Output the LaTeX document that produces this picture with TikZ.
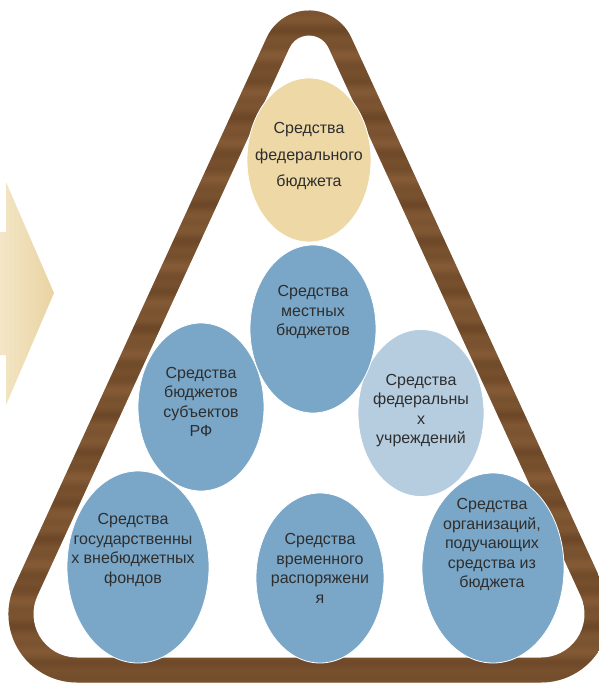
\documentclass[tikz,border=0pt]{standalone}
\usepackage{fontspec}
\setmainfont{Liberation Sans}
\usetikzlibrary{shapes.geometric}
\definecolor{woodA}{HTML}{9A6D42}
\definecolor{woodB}{HTML}{55361A}
\definecolor{woodM}{HTML}{7A5230}
\definecolor{yel}{HTML}{EDD8A6}
\definecolor{blu}{HTML}{7AA7C8}
\definecolor{lblu}{HTML}{B6CDE0}
\definecolor{txt}{HTML}{2E2E2E}
\definecolor{arrL}{HTML}{F3E6C6}
\definecolor{arrR}{HTML}{E9D3A2}
% rounded triangle: #1 apex y, #2 base y, #3 apex radius, #4 base radius
\newcommand\rtri[4]{({309-(#2-(#1))*0.46+(#4)/0.6409},{#2}) arc[start angle=90,end angle=204.7,radius=#4]
 -- ({309-0.9085*(#3)},{#1+(#3)/0.4179-0.4179*(#3)}) arc[start angle=204.7,end angle=335.3,radius=#3]
 -- ({309+(#2-(#1))*0.46-(#4)/0.6409+0.9085*(#4)},{#2-(#4)-0.4179*(#4)}) arc[start angle=-24.7,end angle=90,radius=#4]
 -- cycle}
\begin{document}
\begin{tikzpicture}[x=1pt,y=-1pt,
  bub/.style={ellipse, draw=white, line width=0.8pt, inner sep=0pt},
  lbl/.style={align=center, text=txt, inner sep=0pt, font=\fontsize{16}{19.5}\selectfont}]
\useasboundingbox (0,0) rectangle (598,687);
% arrow at left
\shade[left color=arrL, right color=arrR] (0,232) -- (6,232) -- (6,182) -- (54,293) -- (6,405) -- (6,355) -- (0,355) -- cycle;
% wooden frame
\begin{scope}
  \clip \rtri{-54.3}{682.5}{46.5}{68.5};
  \fill[woodM] (-40,0) rectangle (660,690);
  \foreach \i in {0,...,344}{
      \pgfmathtruncatemacro\wt{50+30*sin(17*\i)+20*sin(41*\i+40)}
      \fill[woodA!\wt!woodB, opacity=.35] (-40,{2*\i}) rectangle (660,{2*\i+2});
  }
\end{scope}
\fill[white] \rtri{5.6}{657.5}{21.5}{43.5};
% bubbles
\node[bub, fill=yel, minimum width=124pt, minimum height=164pt] (fed) at (309,160) {};
\node[lbl, font=\fontsize{16}{26.5}\selectfont] (fedT) at (309,156.5) {Средства\\федерального\\бюджета};
\node[bub, fill=blu, minimum width=126pt, minimum height=168pt] (subj) at (201,407) {};
\node[lbl] (subjT) at (201,402) {Средства\\бюджетов\\субъектов\\РФ};
\node[bub, fill=lblu, minimum width=126pt, minimum height=167pt] (fedu) at (421,413) {};
\node[lbl] (feduT) at (421,410.5) {Средства\\федеральны\\х\\учреждений};
\node[bub, fill=blu, minimum width=126pt, minimum height=168pt] (mest) at (313,329) {};
\node[lbl] (mestT) at (313,312.5) {Средства\\местных\\бюджетов};
\node[bub, fill=blu, minimum width=142pt, minimum height=192pt] (gos) at (138,567) {};
\node[lbl] (gosT) at (133,550) {Средства\\государственны\\х внебюджетных\\фондов};
\node[bub, fill=blu, minimum width=128pt, minimum height=170pt] (vrem) at (320,578) {};
\node[lbl] (vremT) at (320,568.5) {Средства\\временного\\распоряжени\\я};
\node[bub, fill=blu, minimum width=142pt, minimum height=190pt] (org) at (493,568) {};
\node[lbl] (orgT) at (492,545) {Средства\\организаций,\\подучающих\\средства из\\бюджета};
\end{tikzpicture}
\end{document}
